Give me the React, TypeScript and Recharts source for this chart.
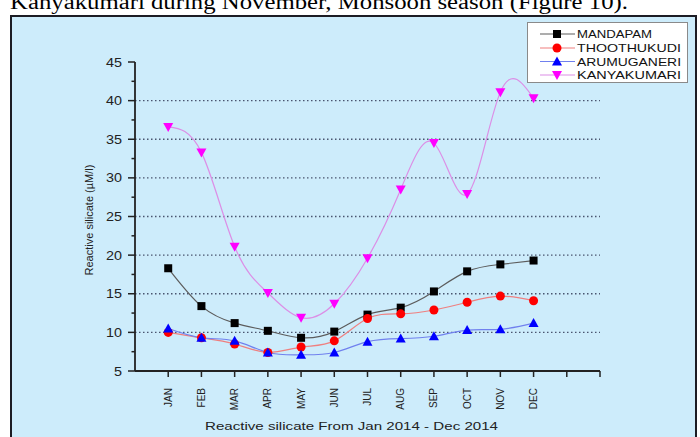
import React from 'react';
import { LineChart, Line, XAxis, YAxis, ReferenceLine, Legend, Label } from 'recharts';

const months = ['JAN', 'FEB', 'MAR', 'APR', 'MAY', 'JUN', 'JUL', 'AUG', 'SEP', 'OCT', 'NOV', 'DEC'];
const mandapam = [18.3, 13.4, 11.2, 10.2, 9.3, 10.1, 12.3, 13.2, 15.3, 17.9, 18.8, 19.3];
const thoothukudi = [10.0, 9.3, 8.5, 7.4, 8.1, 8.9, 11.8, 12.4, 12.9, 13.9, 14.7, 14.1];
const arumuganeri = [10.5, 9.3, 8.9, 7.4, 7.1, 7.4, 8.8, 9.2, 9.5, 10.3, 10.4, 11.2];
const kanyakumari = [36.6, 33.3, 21.1, 15.1, 11.9, 13.7, 19.6, 28.5, 34.5, 27.9, 41.1, 40.3];
const xTicks = [1, 2, 3, 4, 5, 6, 7, 8, 9, 10, 11, 12, 13, 14];
const yTicks = [5, 7.5, 10, 12.5, 15, 17.5, 20, 22.5, 25, 27.5, 30, 32.5, 35, 37.5, 40, 42.5, 45];
const gridValues = [10, 15, 20, 25, 30, 35, 40];

const data = months.map((m, i) => ({
  x: i + 1,
  month: m,
  MANDAPAM: mandapam[i],
  THOOTHUKUDI: thoothukudi[i],
  ARUMUGANERI: arumuganeri[i],
  KANYAKUMARI: kanyakumari[i],
}));

const series = [
  { key: 'MANDAPAM', line: '#5c5c5c', mark: '#000000', shape: 'square' },
  { key: 'THOOTHUKUDI', line: '#ef7f7f', mark: '#ff0000', shape: 'circle' },
  { key: 'ARUMUGANERI', line: '#7080ee', mark: '#0000ff', shape: 'up' },
  { key: 'KANYAKUMARI', line: '#dc8ee6', mark: '#ff00ff', shape: 'down' },
];

const Marker = ({ cx, cy, shape, color }: any) => {
  if (cx == null || cy == null) return null;
  if (shape === 'square') return <rect x={cx - 4} y={cy - 4} width={8} height={8} fill={color} />;
  if (shape === 'circle') return <circle cx={cx} cy={cy} r={4.5} fill={color} />;
  if (shape === 'up') return <polygon points={`${cx - 5},${cy + 4} ${cx + 5},${cy + 4} ${cx},${cy - 5}`} fill={color} />;
  return <polygon points={`${cx - 5},${cy - 4} ${cx + 5},${cy - 4} ${cx},${cy + 5}`} fill={color} />;
};

const YTick = (props: any) => {
  const { x, y, payload } = props;
  const v = payload.value;
  const major = v % 5 === 0;
  return (
    <g>
      <line x1={x} x2={x - (major ? 7 : 3.5)} y1={y} y2={y} stroke="#222" strokeWidth={1.5} />
      {major && (
        <text x={x - 13} y={y} dy={4.5} textAnchor="end" fontSize={13} fill="#222"
          fontFamily="Liberation Sans, Arial, sans-serif"
          textLength={String(v).length * 8} lengthAdjust="spacingAndGlyphs">
          {v}
        </text>
      )}
    </g>
  );
};

const XTick = (props: any) => {
  const { x, y, payload } = props;
  const v = payload.value;
  const label = v >= 1 && v <= 12 ? months[v - 1] : '';
  const ly = y + 17;
  return (
    <g>
      <line x1={x} x2={x} y1={y} y2={y + 6} stroke="#222" strokeWidth={1.5} />
      {label && (
        <text x={x} y={ly} dy={3.5} textAnchor="end" fontSize={10} fill="#222"
          fontFamily="Liberation Sans, Arial, sans-serif"
          transform={`rotate(-90, ${x}, ${ly})`}>
          {label}
        </text>
      )}
    </g>
  );
};

const XTitle = (props: any) => {
  const vb = props.viewBox || {};
  return (
    <text x={vb.x + 70} y={vb.y + 59} fontSize={11.5} fill="#222"
      fontFamily="Liberation Sans, Arial, sans-serif"
      textLength={293} lengthAdjust="spacingAndGlyphs">
      Reactive silicate From Jan 2014 - Dec 2014
    </text>
  );
};

const YTitle = () => {
  const cx = 93;
  const cy = 220;
  return (
    <text x={cx} y={cy} textAnchor="middle" fontSize={11} fill="#222"
      fontFamily="Liberation Sans, Arial, sans-serif"
      transform={`rotate(-90, ${cx}, ${cy})`}>
      Reactive silicate (µM/l)
    </text>
  );
};

const LegendBox = () => {
  const rows = [33, 47, 60.5, 74];
  return (
    <svg width={162} height={62} style={{ display: 'block' }}>
      <rect x={0.5} y={0.5} width={160} height={60} fill="#ffffff" stroke="#8a8a8a" strokeWidth={1} />
      {series.map((s, i) => {
        const y = rows[i] - 21;
        return (
          <g key={s.key}>
            <line x1={13} x2={48} y1={y} y2={y} stroke={s.line} strokeWidth={1.2} />
            <Marker cx={30} cy={y} shape={s.shape} color={s.mark} />
            <text x={50} y={y} dy={4} fontSize={10.5} fill="#111"
              fontFamily="Liberation Sans, Arial, sans-serif"
              textLength={s.key === 'MANDAPAM' ? 75 : 104} lengthAdjust="spacingAndGlyphs">
              {s.key}
            </text>
          </g>
        );
      })}
    </svg>
  );
};

export default function App() {
  return (
    <div style={{ position: 'absolute', left: 0, top: 0, width: 700, height: 437, overflow: 'hidden', background: '#ffffff' }}>
      <svg width={700} height={16} style={{ position: 'absolute', left: 0, top: 0 }}>
        <text x={10} y={9} fontSize={20} fontFamily="Liberation Serif, Times New Roman, serif" fill="#000"
          textLength={618} lengthAdjust="spacingAndGlyphs">
          Kanyakumari during November, Monsoon season (Figure 10).
        </text>
      </svg>
      <div style={{ position: 'absolute', left: 10, top: 15, width: 683, height: 440, background: '#cdecfb', border: '2.5px solid #1c1c24' }} />
      <div style={{ position: 'absolute', left: 0, top: 0 }}>
        <LineChart width={700} height={437} data={data} margin={{ top: 62, right: 100, bottom: 0, left: 0 }}>
          {gridValues.map((g) => (
            <ReferenceLine key={g} y={g} stroke="#4a5570" strokeWidth={1.4} strokeDasharray="1.5 2.5" />
          ))}
          <XAxis dataKey="x" type="number" domain={[0, 14]} ticks={xTicks} interval={0}
            height={66} tickSize={0} tickMargin={0} tick={<XTick />} tickLine={false}
            axisLine={{ stroke: '#222', strokeWidth: 1.8 }} allowDataOverflow>
            <Label content={<XTitle />} />
          </XAxis>
          <YAxis type="number" domain={[5, 45]} ticks={yTicks} interval={0} width={135}
            tickSize={0} tickMargin={0} tick={<YTick />} tickLine={false}
            axisLine={{ stroke: '#222', strokeWidth: 1.8 }} allowDataOverflow>
            <Label content={<YTitle />} />
          </YAxis>
          <Legend layout="horizontal" verticalAlign="middle" align="center" content={<LegendBox />}
            wrapperStyle={{ position: 'absolute', left: 527, top: 22, width: 162, height: 62 }} />
          {series.map((s) => (
            <Line key={s.key} dataKey={s.key} type="natural" stroke={s.line} strokeWidth={1.2}
              isAnimationActive={false}
              dot={(p: any) => <Marker key={`${s.key}-${p.index}`} cx={p.cx} cy={p.cy} shape={s.shape} color={s.mark} />}
              activeDot={false} />
          ))}
        </LineChart>
      </div>
    </div>
  );
}
